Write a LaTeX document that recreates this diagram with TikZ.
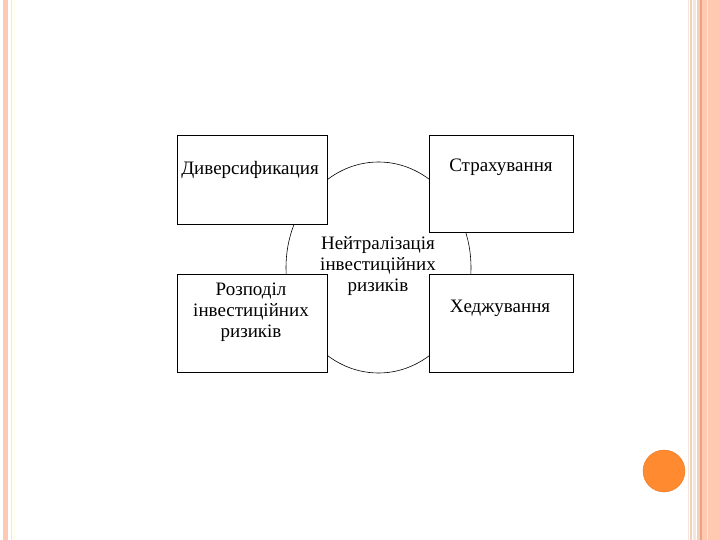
\documentclass[tikz,border=0pt]{standalone}
\usepackage{fontspec}
\setmainfont{Liberation Serif}
\usetikzlibrary{shapes.geometric}
\definecolor{stripepink}{HTML}{FFC8B0}
\definecolor{stripelight}{HTML}{F8E4DA}
\definecolor{stripebeige}{HTML}{EBD3C0}
\definecolor{stripeorange}{HTML}{EFA080}
\definecolor{dotorange}{HTML}{FF8A30}
\begin{document}
\begin{tikzpicture}[x=1pt,y=-1pt,
  box/.style={draw=black, fill=white, line width=0.8pt, inner sep=0pt},
  lbl/.style={font=\fontsize{19}{21}\selectfont, align=center, inner sep=0pt}]
\useasboundingbox (0,0) rectangle (720,540);
\fill[white] (0,0) rectangle (720,540);
% left decoration
\fill[stripepink] (3,0) rectangle (8,540);
\fill[stripelight] (10.5,0) rectangle (11.5,540);
\fill[stripelight!60!yellow!20] (13.5,0) rectangle (14.5,540);
% right decoration
\fill[stripelight] (687.5,0) rectangle (689,540);
\fill[stripebeige] (690,0) rectangle (691.5,540);
\fill[stripelight] (693,0) rectangle (696,540);
\fill[stripebeige] (697,0) rectangle (700,540);
\fill[stripeorange] (700,0) rectangle (702,540);
\fill[stripepink] (702,0) rectangle (720,540);
\fill[stripepink!80!orange!40] (707,0) rectangle (708,540);
% orange dot
\node[circle, fill=dotorange, draw=dotorange!90!black, line width=0.4pt, minimum size=42pt, inner sep=0pt] (dot) at (664,471) {};
% central ellipse
\node[ellipse, draw=black, line width=0.6pt, minimum width=185pt, minimum height=211pt, inner sep=0pt] (ell) at (378.5,267.5) {};
% boxes
\node[box, minimum width=150pt, minimum height=89pt] (tl) at (252,179.5) {};
\node[box, minimum width=144pt, minimum height=97pt] (tr) at (501,183.5) {};
\node[box, minimum width=150pt, minimum height=98pt] (bl) at (252,323) {};
\node[box, minimum width=144pt, minimum height=98pt] (br) at (501,323) {};
% labels
\node[lbl, anchor=base] (tltext) at (250,175) {Диверсификация};
\node[lbl, anchor=base] (trtext) at (501,172) {Страхування};
\node[lbl, anchor=base] (brtext) at (500,312) {Хеджування};
\node[lbl] (bltext) at (251,312) {Розподіл\\інвестиційних\\ризиків};
\node[lbl] (ctext) at (378,266) {Нейтралізація\\інвестиційних\\ризиків};
\end{tikzpicture}
\end{document}
